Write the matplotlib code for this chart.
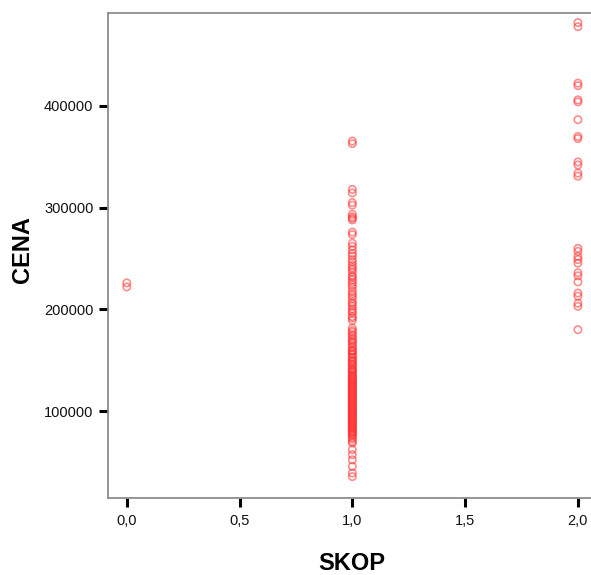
import matplotlib
matplotlib.use("Agg")
import matplotlib.pyplot as plt
from matplotlib.ticker import FuncFormatter
import numpy as np

plt.rcParams['font.family'] = ['Liberation Sans', 'DejaVu Sans']

# SKOP = 0
cena_0 = [222000, 226000]

# SKOP = 1
cena_1 = [363000, 365500, 318000, 314500, 305000, 302500, 293500, 291000, 289500,
          288000, 276000, 273500, 265000, 262000, 258500, 255000, 252500, 249000,
          246500, 243500, 241000, 239000, 236500, 233000, 231500, 229000, 226500,
          224000, 221500, 218000, 215500, 213000, 210500, 207000, 205500, 203000,
          200500, 198000, 196500, 193000, 191500, 189000, 181500, 179000, 177500,
          175000, 173500, 171000, 169500, 168000, 166500, 164000, 162500, 160000,
          159000, 158500, 156000, 155500, 153000, 152500, 150000, 149500, 148000,
          146500, 145000, 144500, 142000, 141500, 140000, 139500, 138000, 136500,
          135000, 134500, 133000, 132500, 131000, 130500, 129000, 128500, 127000,
          126500, 125000, 124500, 123000, 122500, 121000, 120500, 119000, 118500,
          117000, 116500, 115000, 114500, 113000, 112500, 111000, 110500, 109000,
          108500, 107000, 106500, 105000, 104500, 103000, 102500, 101000, 100500,
          99000, 98500, 97000, 96500, 95000, 94500, 93000, 92500, 91000, 90500,
          89000, 88500, 87000, 86500, 85000, 84500, 83000, 82500, 81000, 80000,
          79000, 78000, 77000, 76000, 74000, 72500, 70000, 68500, 62000, 57000,
          52000, 45500, 39000, 35500]

# SKOP = 2
cena_2 = [478000, 482000, 422500, 420000, 406000, 404000, 386500, 370000, 368000,
          345000, 342000, 334000, 331000, 260000, 257000, 252000, 249000, 245500,
          236000, 233000, 227000, 216000, 213000, 206000, 203000, 180000]

skop = [0] * len(cena_0) + [1] * len(cena_1) + [2] * len(cena_2)
cena = cena_0 + cena_1 + cena_2

fig = plt.figure(figsize=(5.91, 5.75), dpi=100)
ax = fig.add_axes([108 / 591, 1 - 498 / 575, 1 - 108 / 591, (498 - 13) / 575])

ax.scatter(skop, cena, s=28, marker='o', facecolors='none',
           edgecolors='#ff3030', linewidths=1.2, alpha=0.55, zorder=3)

ax.set_xlim(-0.083, 2.058)
ax.set_ylim(14430, 491470)
ax.set_xticks([0, 0.5, 1.0, 1.5, 2.0])
ax.set_yticks([100000, 200000, 300000, 400000])
ax.xaxis.set_major_formatter(FuncFormatter(lambda v, p: ('%.1f' % v).replace('.', ',')))
ax.yaxis.set_major_formatter(FuncFormatter(lambda v, p: '%d' % v))

ax.tick_params(axis='both', direction='out', length=6.5, width=2.2, color='black',
               labelsize=10.5, labelcolor='#111111')
ax.tick_params(axis='x', pad=5)
ax.tick_params(axis='y', pad=4)

for side in ['left', 'bottom', 'top']:
    ax.spines[side].set_color('#8c8c8c')
    ax.spines[side].set_linewidth(1.3)
ax.spines['right'].set_visible(False)

fig.text(352 / 591, 1 - 563 / 575, 'SKOP', fontsize=17, fontweight='bold',
         ha='center', va='center')
fig.text(23 / 591, 1 - 250 / 575, 'CENA', fontsize=17, fontweight='bold',
         ha='center', va='center', rotation=90)

fig.savefig('out.png', dpi=100)
